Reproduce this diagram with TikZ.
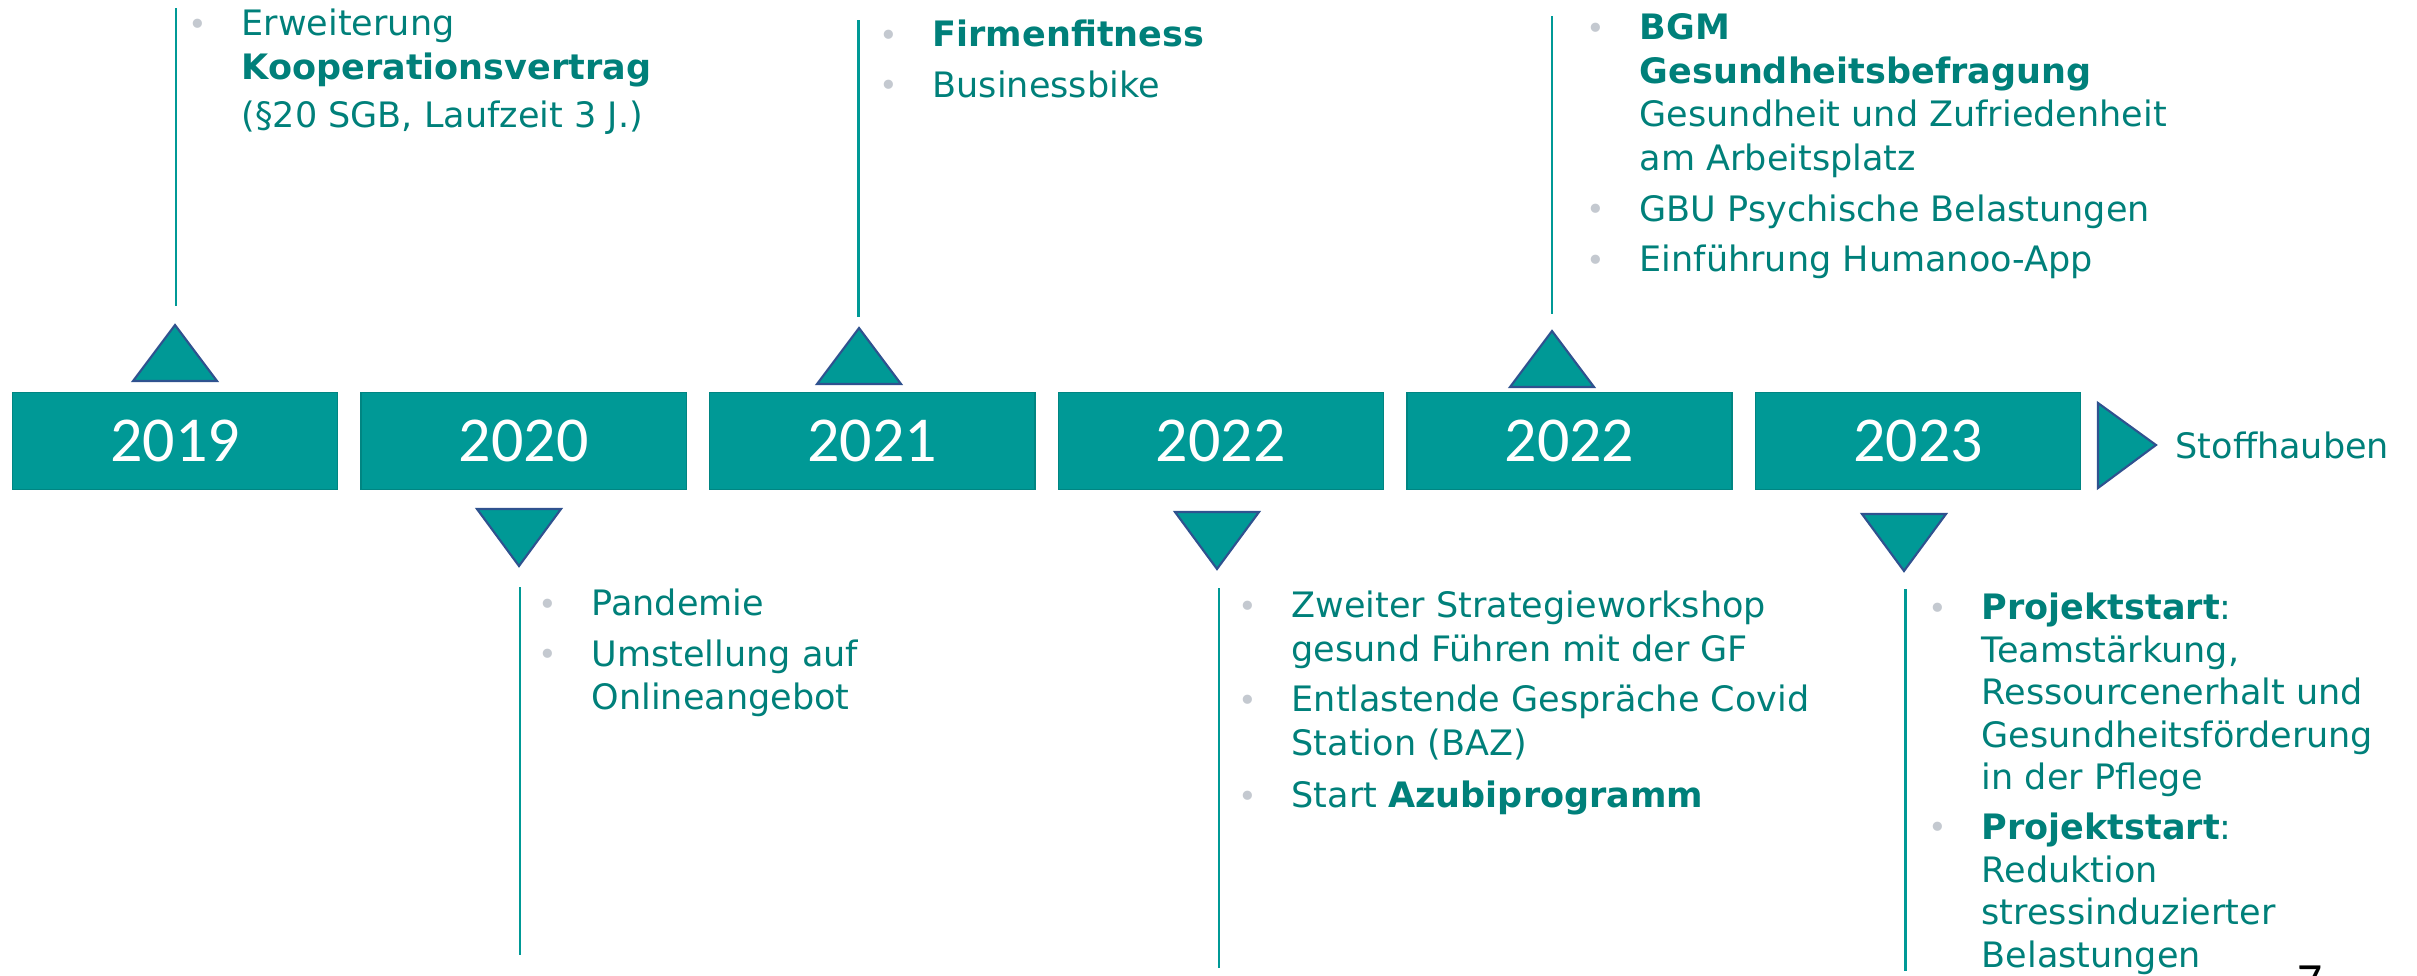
\documentclass[tikz,border=0pt]{standalone}
\usepackage{fontspec}
\setmainfont{DejaVu Sans}
\newfontfamily\yearfont{Carlito}
\usetikzlibrary{positioning}

\definecolor{tealbox}{RGB}{0,153,150}
\definecolor{tealedge}{RGB}{0,133,130}
\definecolor{tealtext}{RGB}{0,128,122}
\definecolor{triedge}{RGB}{47,82,143}
\definecolor{bulgray}{RGB}{196,201,208}

\newcommand{\bul}{\rule{0pt}{9pt}\llap{\textcolor{bulgray}{\fontsize{9pt}{9pt}\selectfont\raisebox{0.2pt}{\textbullet}}\hspace{0.35cm}}}

\begin{document}
\begin{tikzpicture}[
      x=0.01cm, y=-0.01cm,
      yearbox/.style={
        fill=tealbox,
        draw=tealedge,
        line width=0.4pt,
        minimum width=3.25cm,
        minimum height=0.97cm,
        inner sep=0pt,
        text=white,
        font=\yearfont\fontsize{18.2pt}{20pt}\selectfont
      },
      notes/.style={
        anchor=north west,
        yshift=9pt,
        align=left,
        inner sep=0pt,
        text=tealtext,
        font=\fontsize{9.96pt}{12.4pt}\selectfont
      },
      tag/.style={
        anchor=base west,
        inner sep=0pt,
        text=tealtext,
        font=\fontsize{9.96pt}{12.4pt}\selectfont
      },
      tri/.style={
        fill=tealbox,
        draw=triedge,
        line width=0.6pt,
        line join=miter
      },
      stem/.style={
        draw=tealbox,
        line width=0.6pt
      },
      node distance=0.22cm
      ]
      \useasboundingbox (0,0) rectangle (2417,975);

      % year boxes
      \node[yearbox] (y2019) at (175,441) {2019};
      \node[yearbox,right=of y2019] (y2020) {2020};
      \node[yearbox,right=of y2020] (y2021) {2021};
      \node[yearbox,right=of y2021] (y2022a) {2022};
      \node[yearbox,right=of y2022a] (y2022b) {2022};
      \node[yearbox,right=of y2022b] (y2023) {2023};

      % markers
      \foreach \x/\y in {175/381, 859/384, 1552/387}
        \draw[tri] (\x-42,\y) -- (\x,\y-56) -- (\x+42,\y) -- cycle;
      \foreach \x/\y in {519/509, 1217/512, 1904/514}
        \draw[tri] (\x-42,\y) -- (\x,\y+57) -- (\x+42,\y) -- cycle;
      \draw[tri] (2098,403) -- (2156,445) -- (2098,488) -- cycle;

      \node[tag] (stoff) at (2175,458) {Stoffhauben};

      % above the line
      \node[notes] (n2019) at (241,35)
        {\bul Erweiterung\\
         \textbf{Kooperationsvertrag}\\[1.4pt]
         (§20 SGB, Laufzeit 3 J.)};
      \node[notes] (n2021) at (932,46)
        {\bul\textbf{Firmenfitness}\\[2pt]
         \bul Businessbike};
      \node[notes] (n2022b) at (1639,39)
        {\bul\textbf{BGM}\\
         \textbf{Gesundheitsbefragung}\\
         Gesundheit und Zufriedenheit\\
         am Arbeitsplatz\\[2pt]
         \bul GBU Psychische Belastungen\\[2pt]
         \bul Einführung Humanoo-App};

      % below the line
      \node[notes] (n2020) at (591,615)
        {\bul Pandemie\\[2pt]
         \bul Umstellung auf\\
         Onlineangebot};
      \node[notes] (n2022a) at (1291,617)
        {\bul Zweiter Strategieworkshop\\
         gesund Führen mit der GF\\[2pt]
         \bul Entlastende Gespräche Covid\\
         Station (BAZ)\\[2.5pt]
         \bul Start \textbf{Azubiprogramm}};
      \node[notes,font=\fontsize{9.96pt}{12.1pt}\selectfont] (n2023) at (1981,619)
        {\bul\textbf{Projektstart}:\\
         Teamstärkung,\\
         Ressourcenerhalt und\\
         Gesundheitsförderung\\
         in der Pflege\\[2pt]
         \bul\textbf{Projektstart}:\\
         Reduktion\\
         stressinduzierter\\
         Belastungen};

      % stems
      \coordinate (top2019) at (176,8);
      \coordinate (foot2019) at (176,306);
      \coordinate (top2021) at (858.5,20);
      \coordinate (foot2021) at (858.5,317);
      \coordinate (top2022) at (1552,16);
      \coordinate (foot2022) at (1552,314);
      \coordinate (top2020) at (520,587);
      \coordinate (foot2020) at (520,955);
      \coordinate (top2022a) at (1219,588);
      \coordinate (foot2022a) at (1219,968);
      \coordinate (top2023) at (1905.5,589);
      \coordinate (foot2023) at (1905.5,971);
      \draw[stem] (top2019) -- (foot2019);
      \draw[stem] (top2021) -- (foot2021);
      \draw[stem] (top2022) -- (foot2022);
      \draw[stem] (top2020) -- (foot2020);
      \draw[stem] (top2022a) -- (foot2022a);
      \draw[stem] (top2023) -- (foot2023);

      \node[anchor=north,inner sep=0pt,font=\yearfont\fontsize{14pt}{14pt}\selectfont] (page) at (2310,965) {7};
    \end{tikzpicture}
\end{document}
